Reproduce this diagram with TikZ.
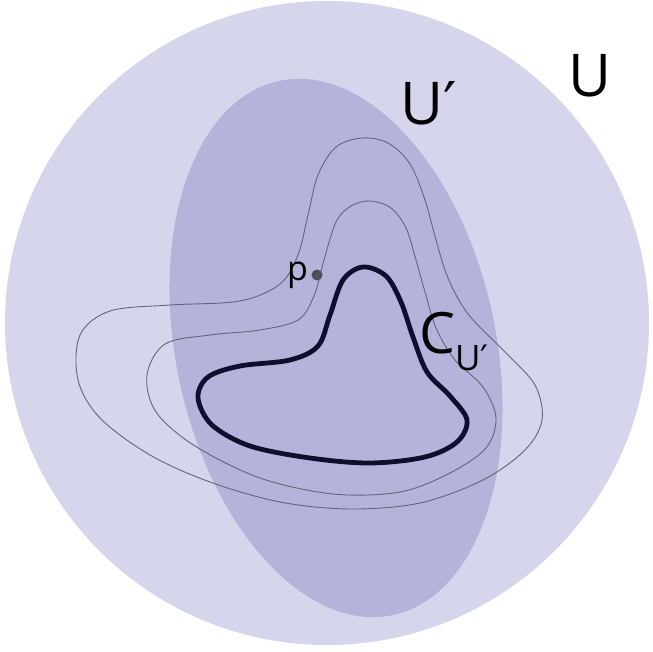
\documentclass[tikz,border=0pt]{standalone}
\usepackage{fontspec}
\setmainfont{Open Sans}
\newfontfamily\primefont{DejaVu Sans}
\usepackage{tikz}
\usetikzlibrary{positioning, calc}

\definecolor{outerU}{RGB}{213,213,235}
\definecolor{innerU}{RGB}{180,180,218}
\definecolor{curveC}{RGB}{15,15,45}
\definecolor{levelline}{RGB}{100,100,122}
\definecolor{pointp}{RGB}{78,78,90}

\begin{document}
\begin{tikzpicture}[
  x=1pt, y=-1pt,
  bigset/.style={fill=outerU, draw=none},
  subset/.style={fill=innerU, draw=none},
  level/.style={draw=levelline, line width=0.9pt, smooth cycle, tension=0.55},
  thickcurve/.style={draw=curveC, line width=4.8pt, smooth cycle, tension=0.55},
  dot/.style={circle, fill=pointp, inner sep=0pt, minimum size=11pt},
  lab/.style={inner sep=0pt, anchor=base west, text=black},
]
\useasboundingbox (0,0) rectangle (653,652);

%% Sets U and U'
\fill[bigset] (327,323) circle [radius=322];
\fill[subset, shift={(336,348)}, rotate=12] (0,0) ellipse [x radius=160, y radius=273];

%% Outer level curve
\draw[level] plot coordinates {
  (362,138) (388,143) (410,164) (425,200) (436,240) (448,278) (468,314)
  (505,352) (535,385) (542,420) (525,450) (483,480)
  (420,503) (350,509) (280,502) (210,482) (150,455)
  (100,418) (78,380) (80,335) (110,311) (170,305) (240,301)
  (280,284) (298,255) (308,215) (318,175) (336,147)};

%% Middle level curve (through p)
\draw[level] plot coordinates {
  (370,201) (391,208) (406,228) (416,260) (425,292) (436,328) (455,360)
  (483,387) (496,418) (486,448) (450,473) (400,492)
  (333,494) (260,478) (195,446) (156,412) (147,375)
  (165,344) (210,335) (260,330) (298,320) (314,296) (324,260)
  (336,222) (351,206)};

%% Curve C_U'
\draw[thickcurve] plot coordinates {
  (363,267) (386,276) (401,302) (413,337) (427,372) (450,396)
  (467,420) (457,442) (425,457) (370,463) (310,458) (250,446)
  (212,425) (198,398) (208,377) (240,366) (290,360)
  (318,346) (330,315) (343,280)};

%% Point and labels
\node[dot] (p) at (317,275) {};
\node[lab, font=\fontsize{34}{34}\selectfont] (plab) at (287,280) {p};
\node[lab, font=\fontsize{59}{59}\selectfont] (Ulab) at (568,97) {U};
\node[lab, font=\fontsize{59}{59}\selectfont] (Uplab) at (400,125) {U{\primefont ′}};
\node[lab, font=\fontsize{57}{57}\selectfont] (Clab) at (419,353)
  {C\raisebox{-17pt}{\fontsize{35}{35}\selectfont U{\primefont ′}}};

\end{tikzpicture}
\end{document}
